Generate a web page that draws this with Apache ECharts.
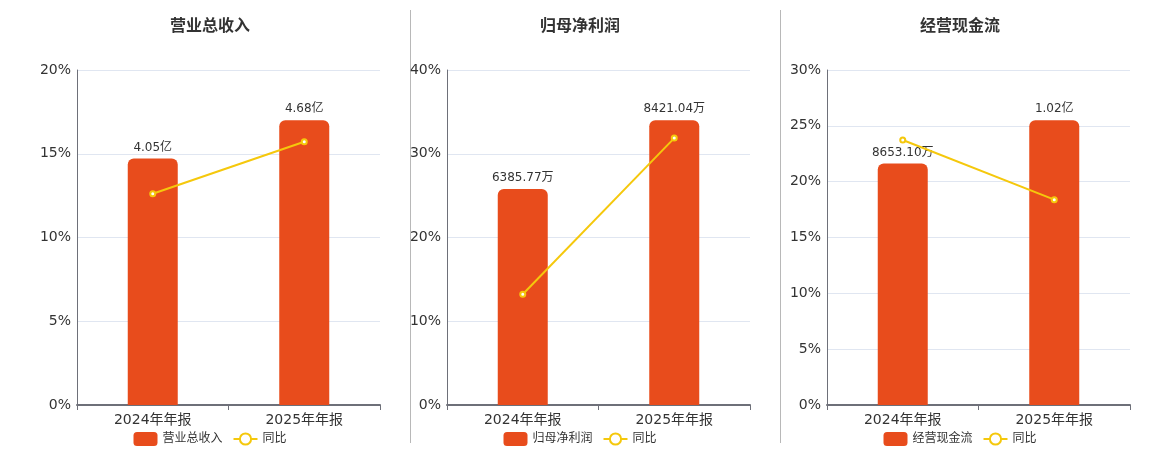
<!DOCTYPE html>
<html>
<head>
<meta charset="utf-8">
<script src="https://cdn.jsdelivr.net/npm/echarts@6/dist/echarts.min.js"></script>
<style>
html,body{margin:0;padding:0;background:#fff;}
#main{width:1160px;height:450px;}
</style>
</head>
<body>
<div id="main"></div>
<script>
const categories = ['2024年年报', '2025年年报'];

const titles = ['营业总收入', '归母净利润', '经营现金流'];

const revenueValues = [4.05, 4.68];
const revenueLabels = ['4.05亿', '4.68亿'];
const revenueYoY = [12.61, 15.72];

const profitValues = [6385.77, 8421.04];
const profitLabels = ['6385.77万', '8421.04万'];
const profitYoY = [13.22, 31.87];

const cashValues = [8653.10, 10200];
const cashLabels = ['8653.10万', '1.02亿'];
const cashYoY = [23.73, 18.39];

const pctMax = [20, 40, 30];
const pctInterval = [5, 10, 5];

const FONT = "'DejaVu Sans', 'Noto Sans CJK SC', sans-serif";
const BAR_COLOR = '#e84c1c';
const LINE_COLOR = '#f5c80c';

const panels = [
  {values: revenueValues, labels: revenueLabels, yoy: revenueYoY},
  {values: profitValues, labels: profitLabels, yoy: profitYoY},
  {values: cashValues, labels: cashLabels, yoy: cashYoY}
];

const gridLefts = [77, 447, 827];
const titleCenters = [205, 575, 955];

const option = {
  animation: false,
  textStyle: {fontFamily: FONT},
  title: [], legend: [], grid: [], xAxis: [], yAxis: [], series: [],
  graphic: [
    {type: 'line', shape: {x1: 410.5, y1: 10, x2: 410.5, y2: 443}, style: {stroke: '#b8b8b8', lineWidth: 1}},
    {type: 'line', shape: {x1: 780.5, y1: 10, x2: 780.5, y2: 443}, style: {stroke: '#b8b8b8', lineWidth: 1}}
  ]
};

panels.forEach((p, i) => {
  option.title.push({
    text: titles[i], left: titleCenters[i], top: 14, textAlign: 'center',
    textStyle: {fontSize: 16, fontWeight: 'bold', color: '#333', fontFamily: FONT}
  });
  const w = 24 + 5 + titles[i].length * 12 + 10 + 25 + 5 + 24;
  option.legend.push({
    data: [titles[i], '同比'], left: titleCenters[i] - w / 2, top: 427,
    itemWidth: 24, itemHeight: 14, itemGap: 10,
    textStyle: {fontSize: 12, color: '#333', fontFamily: FONT}
  });
  option.grid.push({left: gridLefts[i], width: 303, top: 70, bottom: 45, containLabel: false});
  option.xAxis.push({
    type: 'category', gridIndex: i, data: categories,
    axisLine: {lineStyle: {color: '#6e7079', width: 2}},
    axisTick: {show: true, lineStyle: {color: '#6e7079'}},
    axisLabel: {fontSize: 14, color: '#333', margin: 8, fontFamily: FONT}
  });
  option.yAxis.push({
    type: 'value', gridIndex: i, min: 0, max: pctMax[i], interval: pctInterval[i],
    axisLine: {show: true, lineStyle: {color: '#6e7079', width: 1}},
    axisTick: {show: false},
    axisLabel: {fontSize: 14, color: '#333', margin: 6, formatter: '{value}%', fontFamily: FONT},
    splitLine: {lineStyle: {color: '#e0e6f1'}}
  });
  option.yAxis.push({
    type: 'value', gridIndex: i, min: 0, max: Math.max(...p.values) / 0.85,
    show: false, splitLine: {show: false}
  });
  option.series.push({
    name: titles[i], type: 'bar', xAxisIndex: i, yAxisIndex: 2 * i + 1,
    data: p.values, barWidth: 50,
    itemStyle: {color: BAR_COLOR, borderRadius: [6, 6, 0, 0]},
    label: {
      show: true, position: 'top', fontSize: 12, color: '#333', distance: 5, fontFamily: FONT,
      formatter: (d) => p.labels[d.dataIndex]
    }
  });
  option.series.push({
    name: '同比', type: 'line', xAxisIndex: i, yAxisIndex: 2 * i,
    data: p.yoy, symbol: 'emptyCircle', symbolSize: 5,
    lineStyle: {color: LINE_COLOR, width: 2},
    itemStyle: {color: LINE_COLOR, borderWidth: 2}
  });
});

const chart = echarts.init(document.getElementById('main'));
chart.setOption(option);
</script>
</body>
</html>
